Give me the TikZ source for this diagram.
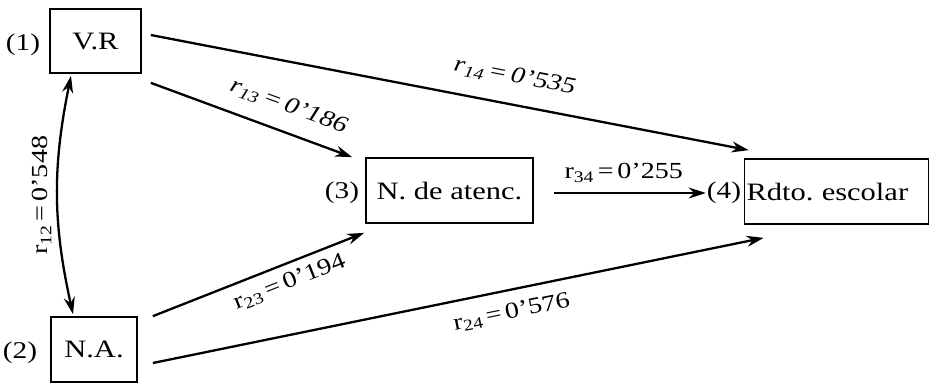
\documentclass[tikz,border=0pt]{standalone}
\usepackage{fontspec}
\setmainfont[FakeStretch=1.22]{Liberation Serif}
\usetikzlibrary{arrows.meta}
\frenchspacing
\begin{document}
\begin{tikzpicture}[x=1pt,y=-1pt,
  box/.style={draw, line width=1.7pt, inner sep=0pt, font=\fontsize{25}{27}\selectfont},
  tag/.style={inner sep=1pt, font=\fontsize{24}{26}\selectfont},
  conn/.style={line width=2.3pt, -{Stealth[length=17pt,width=11pt]}},
  dconn/.style={line width=2.3pt, {Stealth[length=17pt,width=11pt]}-{Stealth[length=17pt,width=11pt]}},
  lab/.style={inner sep=0pt, font=\fontsize{23}{25}\selectfont}]
\useasboundingbox (0,0) rectangle (931,384);
\node[box, minimum width=91pt, minimum height=64pt] (vr) at (95.5,41) {V.R};
\node[box, minimum width=86pt, minimum height=65pt] (na) at (94,349.5) {N.A.};
\node[box, minimum width=167pt, minimum height=65pt] (nat) at (449.5,190.5) {N. de atenc.};
\node[box, minimum width=184pt, minimum height=65pt, text width=180pt, inner xsep=2pt, align=left] (rd) at (836.5,191.5) {Rdto. escolar};
\node[tag] (l1) at (23,45) {(1)};
\node[tag] (l2) at (20,353) {(2)};
\node[tag] (l3) at (342,193) {(3)};
\node[tag] (l4) at (724,193) {(4)};
\draw[dconn] ([shift={(-24.5,2)}]vr.south) to[bend right=12]
  node[midway, rotate=90, anchor=south, lab, inner sep=5pt] {r\textsubscript{12}\,=\,0’548}
  ([shift={(-21,-2)}]na.north);
\draw[conn] ([shift={(9,-6)}]vr.east) --
  node[pos=0.6, sloped, above=17pt, lab] {\itshape r\textsubscript{14}\,=\,0’535}
  ([shift={(5,-8)}]rd.north west);
\draw[conn] ([shift={(9,9)}]vr.south east) --
  node[pos=0.64, sloped, above=15pt, lab] {\itshape r\textsubscript{13}\,=\,0’186}
  ([shift={(-13,0)}]nat.north west);
\draw[conn] ([shift={(15,0)}]na.north east) --
  node[pos=0.615, sloped, below=8pt, lab] {r\textsubscript{23}\,=\,0’194}
  ([shift={(-1,9)}]nat.south west);
\draw[conn] ([shift={(15,13.5)}]na.east) --
  node[pos=0.58, sloped, below=12pt, lab] {r\textsubscript{24}\,=\,0’576}
  ([shift={(20,13)}]rd.south west);
\draw[conn] ([shift={(20,2.5)}]nat.east) --
  node[pos=0.46, above=9pt, lab] {r\textsubscript{34}\,=\,0’255}
  (l4.west);
\end{tikzpicture}
\end{document}
